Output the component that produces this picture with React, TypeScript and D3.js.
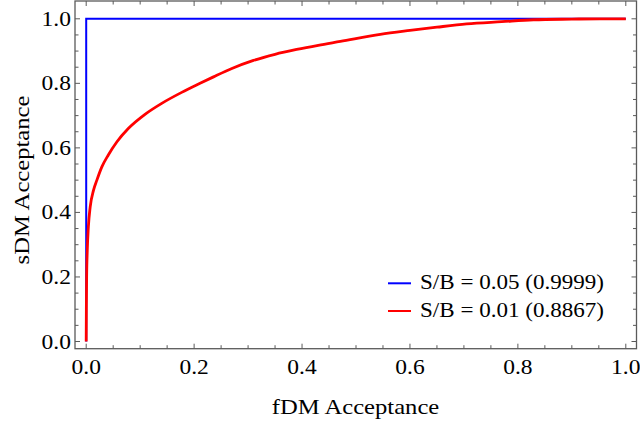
import React from "react";
import * as d3 from "d3";

const W = 640;
const H = 428;

// Blue ROC curve: S/B = 0.05
const blueX = [0, 0, 1];
const blueY = [0, 1, 1];

// Red ROC curve: S/B = 0.01
const redX = [0, 0.0003, 0.0008, 0.002, 0.004, 0.0074, 0.0136, 0.0198, 0.029, 0.041, 0.057, 0.078, 0.109, 0.14, 0.177, 0.211, 0.236, 0.27, 0.31, 0.35, 0.39, 0.43, 0.471, 0.545, 0.6, 0.65, 0.705, 0.77, 0.829, 0.9, 0.952, 1.0];
const redY = [0, 0.1, 0.2, 0.283, 0.355, 0.417, 0.469, 0.5, 0.541, 0.578, 0.619, 0.66, 0.704, 0.738, 0.772, 0.8, 0.82, 0.846, 0.871, 0.89, 0.905, 0.918, 0.93, 0.952, 0.964, 0.974, 0.984, 0.991, 0.997, 0.999, 1.0, 1.0];

const legendLabels = ["S/B = 0.05 (0.9999)", "S/B = 0.01 (0.8867)"];
const seriesColors = ["#0000ff", "#ff0000"];
const xLabel = "fDM Acceptance";
const yLabel = "sDM Acceptance";

const FRAME = { left: 75, right: 636.5, top: 1, bottom: 348.7 };
const FONT = "'Liberation Serif', 'Times New Roman', serif";
const SX = 1.12;

function Txt({ x, y, anchor, children, fs }: any) {
  return (
    <g transform={`translate(${x},${y}) scale(${SX},1)`}>
      <text x={0} y={0} textAnchor={anchor} fontFamily={FONT} fontSize={fs} fill="#000">
        {children}
      </text>
    </g>
  );
}

export default function App() {
  const x = d3.scaleLinear().domain([0, 1]).range([86.2, 625.8]);
  const y = d3.scaleLinear().domain([0, 1]).range([341.5, 18.8]);
  const majors = x.ticks(5);
  const minors = d3.range(0, 1.0001, 0.05);
  const fmt = d3.format(".1f");
  const lineB = d3
    .line<[number, number]>()
    .x((d) => x(d[0]))
    .y((d) => y(d[1]));
  const lineR = d3
    .line<[number, number]>()
    .x((d) => x(d[0]))
    .y((d) => y(d[1]))
    .curve(d3.curveMonotoneX);
  const bluePts = blueX.map((v, i) => [v, blueY[i]] as [number, number]);
  const redPts = redX.map((v, i) => [v, redY[i]] as [number, number]);
  const frameColor = "#5a5a5a";
  const isMajor = (v: number) => majors.some((m) => Math.abs(m - v) < 1e-6);

  return (
    <svg width={W} height={H} style={{ position: "absolute", left: 0, top: 0 }}>
      <rect x={0} y={0} width={W} height={H} fill="#fff" />
      <path d={lineB(bluePts) || ""} fill="none" stroke={seriesColors[0]} strokeWidth={2} />
      <path d={lineR(redPts) || ""} fill="none" stroke={seriesColors[1]} strokeWidth={2.8} strokeLinejoin="round" />
      {minors.map((v, i) => {
        const len = isMajor(v) ? 5 : 3.5;
        const px = x(v);
        const py = y(v);
        return (
          <g key={i} stroke={frameColor} strokeWidth={1}>
            <line x1={px} x2={px} y1={FRAME.bottom} y2={FRAME.bottom - len} />
            <line x1={px} x2={px} y1={FRAME.top} y2={FRAME.top + len} />
            <line x1={FRAME.left} x2={FRAME.left + len} y1={py} y2={py} />
            <line x1={FRAME.right} x2={FRAME.right - len} y1={py} y2={py} />
          </g>
        );
      })}
      <rect
        x={FRAME.left}
        y={FRAME.top}
        width={FRAME.right - FRAME.left}
        height={FRAME.bottom - FRAME.top}
        fill="none"
        stroke={frameColor}
        strokeWidth={1.3}
      />
      {majors.map((v, i) => (
        <Txt key={"x" + i} x={x(v)} y={374} anchor="middle" fs={21}>
          {fmt(v)}
        </Txt>
      ))}
      {majors.map((v, i) => (
        <Txt key={"y" + i} x={71} y={y(v) + 7} anchor="end" fs={21}>
          {fmt(v)}
        </Txt>
      ))}
      <Txt x={355.5} y={414} anchor="middle" fs={22}>
        {xLabel}
      </Txt>
      <g transform={`translate(29,180) rotate(-90) scale(${SX},1)`}>
        <text x={0} y={0} textAnchor="middle" fontFamily={FONT} fontSize={22} fill="#000">
          {yLabel}
        </text>
      </g>
      {legendLabels.map((lab, i) => {
        const ly = 283.3 + i * 27.7;
        return (
          <g key={"l" + i}>
            <line x1={388} x2={411} y1={ly} y2={ly} stroke={seriesColors[i]} strokeWidth={2} />
            <Txt x={420} y={ly + 5.8} anchor="start" fs={20.6}>
              {lab}
            </Txt>
          </g>
        );
      })}
    </svg>
  );
}
